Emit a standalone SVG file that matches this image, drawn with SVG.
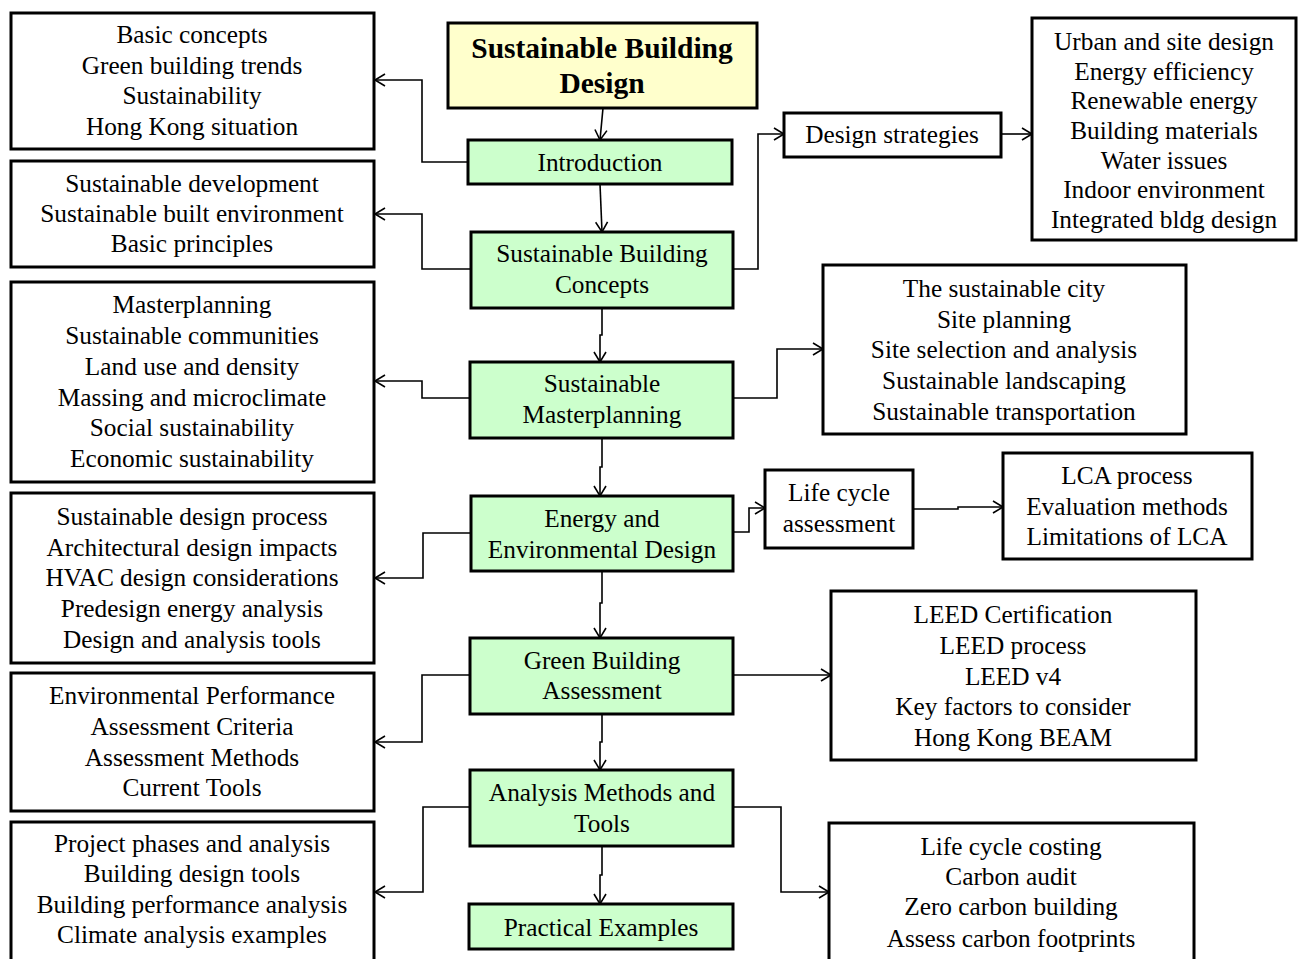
<svg xmlns="http://www.w3.org/2000/svg" width="1298" height="959" viewBox="0 0 1298 959">
<style>
.box{fill:#ffffff;stroke:#000;stroke-width:3}
.green{fill:#ccffcc;stroke:#000;stroke-width:3}
.title{fill:#ffffcc;stroke:#000;stroke-width:3}
text{font-family:'Liberation Serif','Times New Roman','DejaVu Serif',serif;font-size:25.3px;fill:#000;text-anchor:middle}
.bold{font-weight:bold;font-size:29.5px}
.conn{fill:none;stroke:#000;stroke-width:1.6}
</style>
<defs>
<marker id="arr" markerUnits="userSpaceOnUse" markerWidth="14" markerHeight="14" refX="11" refY="7" orient="auto">
<path d="M1,1 L11,7 L1,13" fill="none" stroke="#000" stroke-width="1.6"/>
</marker>
</defs>
<rect width="1298" height="959" fill="#ffffff"/>

<g id="connectors">
<path class="conn" marker-end="url(#arr)" d="M603,108 L600,140"/>
<path class="conn" marker-end="url(#arr)" d="M600,184 L602,232"/>
<path class="conn" marker-end="url(#arr)" d="M602,308 V335 H600 V362"/>
<path class="conn" marker-end="url(#arr)" d="M602,438 V467 H600 V496"/>
<path class="conn" marker-end="url(#arr)" d="M602,571 V603 H600 V638"/>
<path class="conn" marker-end="url(#arr)" d="M602,714 V742 H600 V770"/>
<path class="conn" marker-end="url(#arr)" d="M602,846 V875 H600 V904"/>
<path class="conn" marker-end="url(#arr)" d="M468,162 H422 V80 H375"/>
<path class="conn" marker-end="url(#arr)" d="M471,269 H422 V214 H375"/>
<path class="conn" marker-end="url(#arr)" d="M470,398 H422 V381 H375"/>
<path class="conn" marker-end="url(#arr)" d="M470,533 H423 V578 H375"/>
<path class="conn" marker-end="url(#arr)" d="M470,675 H422 V742 H375"/>
<path class="conn" marker-end="url(#arr)" d="M470,807 H423 V892 H375"/>
<path class="conn" marker-end="url(#arr)" d="M733,269 H758 V134 H784"/>
<path class="conn" marker-end="url(#arr)" d="M1001,134 H1032"/>
<path class="conn" marker-end="url(#arr)" d="M733,398 H777 V349 H823"/>
<path class="conn" marker-end="url(#arr)" d="M733,532 H749 V508 H765"/>
<path class="conn" marker-end="url(#arr)" d="M913,509 H958 V507 H1003"/>
<path class="conn" marker-end="url(#arr)" d="M733,675 H831"/>
<path class="conn" marker-end="url(#arr)" d="M733,807 H781 V892 H829"/>
</g>

<g font-family="'Liberation Serif', 'Times New Roman', 'DejaVu Serif', serif">
<g id="title">
<rect class="title" x="448" y="23" width="309" height="85"/>
<text class="bold" x="602" y="58">Sustainable Building</text>
<text class="bold" x="602" y="93">Design</text>
</g>

<g id="introduction">
<rect class="green" x="468" y="140" width="264" height="44"/>
<text x="600" y="171">Introduction</text>
</g>

<g id="concepts">
<rect class="green" x="471" y="232" width="262" height="76"/>
<text x="602" y="262">Sustainable Building</text>
<text x="602" y="293">Concepts</text>
</g>

<g id="masterplanning">
<rect class="green" x="470" y="362" width="263" height="76"/>
<text x="602" y="392">Sustainable</text>
<text x="602" y="423">Masterplanning</text>
</g>

<g id="energy">
<rect class="green" x="471" y="496" width="262" height="75"/>
<text x="602" y="527">Energy and</text>
<text x="602" y="558">Environmental Design</text>
</g>

<g id="assessment">
<rect class="green" x="470" y="638" width="263" height="76"/>
<text x="602" y="669">Green Building</text>
<text x="602" y="699">Assessment</text>
</g>

<g id="analysis">
<rect class="green" x="470" y="770" width="263" height="76"/>
<text x="602" y="801">Analysis Methods and</text>
<text x="602" y="832">Tools</text>
</g>

<g id="practical">
<rect class="green" x="469" y="904" width="264" height="45"/>
<text x="601" y="936">Practical Examples</text>
</g>

<g id="intro-topics">
<rect class="box" x="11" y="13" width="363" height="136"/>
<text x="192" y="43">Basic concepts</text>
<text x="192" y="74">Green building trends</text>
<text x="192" y="104">Sustainability</text>
<text x="192" y="135">Hong Kong situation</text>
</g>

<g id="concepts-topics">
<rect class="box" x="11" y="161" width="363" height="106"/>
<text x="192" y="192">Sustainable development</text>
<text x="192" y="222">Sustainable built environment</text>
<text x="192" y="252">Basic principles</text>
</g>

<g id="masterplanning-topics">
<rect class="box" x="11" y="282" width="363" height="200"/>
<text x="192" y="313">Masterplanning</text>
<text x="192" y="344">Sustainable communities</text>
<text x="192" y="375">Land use and density</text>
<text x="192" y="406">Massing and microclimate</text>
<text x="192" y="436">Social sustainability</text>
<text x="192" y="467">Economic sustainability</text>
</g>

<g id="energy-topics">
<rect class="box" x="11" y="493" width="363" height="170"/>
<text x="192" y="525">Sustainable design process</text>
<text x="192" y="556">Architectural design impacts</text>
<text x="192" y="586">HVAC design considerations</text>
<text x="192" y="617">Predesign energy analysis</text>
<text x="192" y="648">Design and analysis tools</text>
</g>

<g id="assessment-topics">
<rect class="box" x="11" y="673" width="363" height="138"/>
<text x="192" y="704">Environmental Performance</text>
<text x="192" y="735">Assessment Criteria</text>
<text x="192" y="766">Assessment Methods</text>
<text x="192" y="796">Current Tools</text>
</g>

<g id="analysis-topics">
<rect class="box" x="11" y="822" width="363" height="150"/>
<text x="192" y="852">Project phases and analysis</text>
<text x="192" y="882">Building design tools</text>
<text x="192" y="913">Building performance analysis</text>
<text x="192" y="943">Climate analysis examples</text>
</g>

<g id="design-strategies">
<rect class="box" x="784" y="113" width="217" height="44"/>
<text x="892" y="143">Design strategies</text>
</g>

<g id="strategy-topics">
<rect class="box" x="1032" y="18" width="264" height="222"/>
<text x="1164" y="50">Urban and site design</text>
<text x="1164" y="80">Energy efficiency</text>
<text x="1164" y="109">Renewable energy</text>
<text x="1164" y="139">Building materials</text>
<text x="1164" y="169">Water issues</text>
<text x="1164" y="198">Indoor environment</text>
<text x="1164" y="228">Integrated bldg design</text>
</g>

<g id="masterplanning-right">
<rect class="box" x="823" y="265" width="363" height="169"/>
<text x="1004" y="297">The sustainable city</text>
<text x="1004" y="328">Site planning</text>
<text x="1004" y="358">Site selection and analysis</text>
<text x="1004" y="389">Sustainable landscaping</text>
<text x="1004" y="420">Sustainable transportation</text>
</g>

<g id="lca">
<rect class="box" x="765" y="470" width="148" height="78"/>
<text x="839" y="501">Life cycle</text>
<text x="839" y="532">assessment</text>
</g>

<g id="lca-topics">
<rect class="box" x="1003" y="453" width="249" height="106"/>
<text x="1127" y="484">LCA process</text>
<text x="1127" y="515">Evaluation methods</text>
<text x="1127" y="545">Limitations of LCA</text>
</g>

<g id="leed">
<rect class="box" x="831" y="591" width="365" height="169"/>
<text x="1013" y="623">LEED Certification</text>
<text x="1013" y="654">LEED process</text>
<text x="1013" y="685">LEED v4</text>
<text x="1013" y="715">Key factors to consider</text>
<text x="1013" y="746">Hong Kong BEAM</text>
</g>

<g id="carbon">
<rect class="box" x="829" y="823" width="365" height="150"/>
<text x="1011" y="855">Life cycle costing</text>
<text x="1011" y="885">Carbon audit</text>
<text x="1011" y="915">Zero carbon building</text>
<text x="1011" y="947">Assess carbon footprints</text>
</g>
</g>
</svg>
